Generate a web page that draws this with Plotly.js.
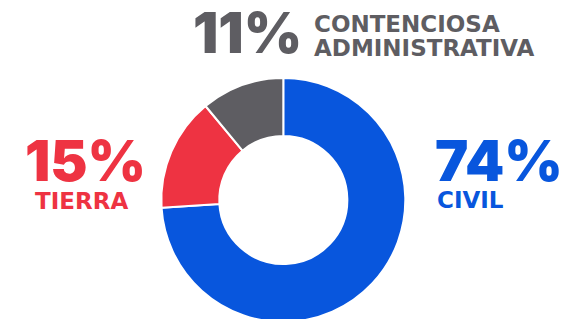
<!DOCTYPE html>
<html>
<head>
<meta charset="utf-8">
<script src="https://cdn.plot.ly/plotly-3.0.1.min.js"></script>
<style>
html,body{margin:0;padding:0;overflow:hidden;background:#fff;width:572px;height:319px;}
#chart{width:572px;height:340px;}
</style>
</head>
<body>
<div id="chart"></div>
<script>
const categories = ["CIVIL", "TIERRA", "CONTENCIOSA ADMINISTRATIVA"];
const values = [74, 15, 11];
const labelLines = [["CIVIL"], ["TIERRA"], ["CONTENCIOSA", "ADMINISTRATIVA"]];
const colors = ["#0856DD", "#EE3342", "#5E5D62"];

const W = 572, H = 340;
const px = x => x / W;
const py = y => 1 - y / H;
const PCT_FONT = "Inter, 'DejaVu Sans', sans-serif";
const LAB_FONT = "'DejaVu Sans', Inter, sans-serif";

const place = [
  {pctX: 433, pctY: 161, labX: 435, labY: 200, step: 0},
  {pctX: 23, pctY: 161, labX: 33, labY: 201, step: 0},
  {pctX: 191, pctY: 33, labX: 312, labY: 24.5, step: 23.5}
];

const annotations = [];
values.forEach((v, i) => {
  const p = place[i];
  annotations.push({
    xref: 'paper', yref: 'paper', x: px(p.pctX), y: py(p.pctY),
    xanchor: 'left', yanchor: 'middle', showarrow: false,
    text: v + '%',
    font: {family: PCT_FONT, size: 56, color: colors[i], weight: 900}
  });
  labelLines[i].forEach((ln, j) => {
    annotations.push({
      xref: 'paper', yref: 'paper', x: px(p.labX), y: py(p.labY + j * p.step),
      xanchor: 'left', yanchor: 'middle', showarrow: false,
      text: ln,
      font: {family: LAB_FONT, size: 23, color: colors[i], weight: 700}
    });
  });
});

const trace = {
  type: 'pie',
  labels: categories,
  values: values,
  hole: 0.525,
  sort: false,
  direction: 'clockwise',
  rotation: 0,
  textinfo: 'none',
  hoverinfo: 'label+percent',
  marker: {colors: colors, line: {color: '#ffffff', width: 2}},
  domain: {x: [161.3 / W, 405.3 / W], y: [18 / H, 262 / H]},
  showlegend: false
};

Plotly.newPlot('chart', [trace], {
  width: W, height: H,
  margin: {l: 0, r: 0, t: 0, b: 0},
  paper_bgcolor: '#ffffff',
  showlegend: false,
  annotations: annotations
}, {displayModeBar: false, staticPlot: true});
</script>
</body>
</html>
